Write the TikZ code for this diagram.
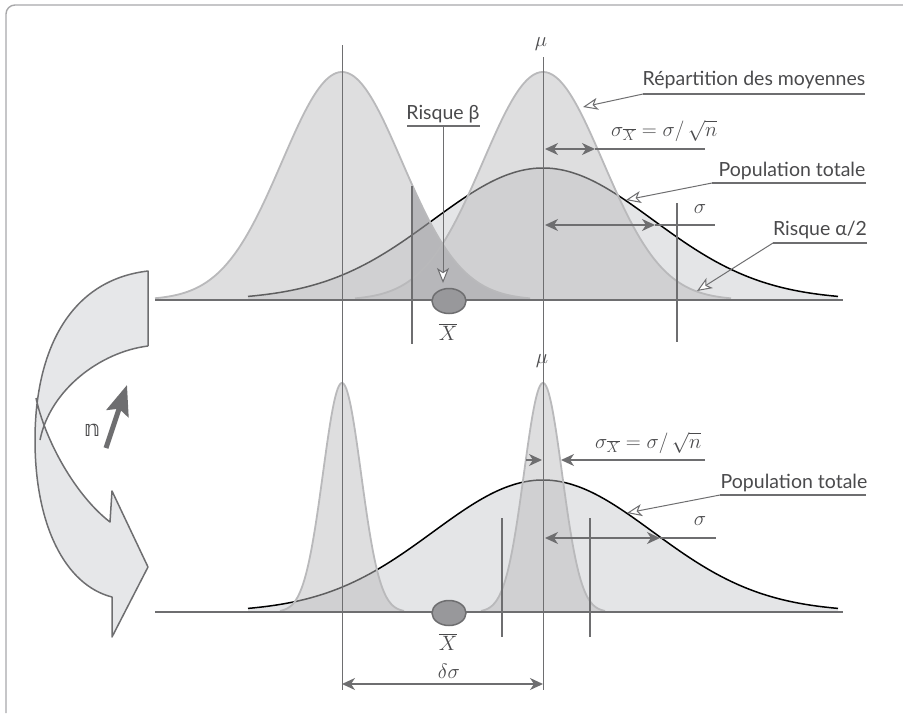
\documentclass[tikz,border=0pt]{standalone}
\usepackage{fontspec}
\setmainfont{Lato}
\newfontfamily\djv{DejaVu Sans}
\usetikzlibrary{arrows.meta,shapes.geometric}
\definecolor{ink}{HTML}{6E6E70}
\definecolor{txt}{HTML}{4A4A4C}
\definecolor{popc}{HTML}{E4E5E7}
\definecolor{bellc}{HTML}{BDBDBF}
\definecolor{bellln}{HTML}{B9B9BB}
\definecolor{betac}{HTML}{B7B7BA}
\definecolor{popgray}{HTML}{6A6A6C}
\definecolor{arrc}{HTML}{E6E7E9}
\definecolor{framec}{HTML}{A8A8AA}
\definecolor{xbarc}{HTML}{98989B}
\begin{document}
\begin{tikzpicture}[x=1pt,y=-1pt,
  declare function={gs(\t,\m,\s)=exp(-0.5*((\t-\m)/\s)*((\t-\m)/\s));},
  lbl/.style={font=\fontsize{19.5}{22}\selectfont,text=txt,inner sep=0pt},
  mth/.style={font=\fontsize{20.74}{25}\selectfont,text=txt,inner sep=0pt},
  uline/.style={draw=ink,line width=1.2pt},
  leader/.style={draw=ink,line width=1pt,-{Stealth[length=15pt,width=12pt,inset=4pt,fill=white]}},
  dimln/.style={draw=ink,line width=1.5pt,{Stealth[length=13pt,width=12pt,inset=4pt]}-{Stealth[length=13pt,width=12pt,inset=4pt]}},
  oneway/.style={draw=ink,line width=1.5pt,-{Stealth[length=13pt,width=12pt,inset=4pt]}},
  plain/.style={draw=ink,line width=1.5pt},
  tickln/.style={draw=ink,line width=1.8pt},
  axisln/.style={draw=ink,line width=2.6pt},
  vln/.style={draw=ink,line width=0.9pt},
  popln/.style={draw=black,line width=1.5pt},
  bellout/.style={draw=bellln,line width=1.8pt},
  bellfill/.style={fill=bellc,opacity=0.5},
  xbar/.style={ellipse,draw=ink,fill=xbarc,line width=1.5pt,minimum width=34pt,minimum height=25pt,inner sep=0pt},
  arrshape/.style={fill=arrc},
  arrline/.style={draw=ink,line width=1.5pt,line join=round}
]
\useasboundingbox (0,0) rectangle (903,713);
% frame
\draw[framec,line width=1.4pt,rounded corners=9pt] (6,713) -- (6,5) -- (903,5);

% ================= TOP PANEL =================
\fill[popc] (248,300) -- plot[domain=248:838,samples=150] (\x,{300-132*gs(\x,543,110)}) -- (838,300) -- cycle;
\draw[popln] plot[domain=248:838,samples=150] (\x,{300-132*gs(\x,543,110)});
\fill[bellfill] (155,300) -- plot[domain=155:530,samples=150] (\x,{300-228*gs(\x,342,60)}) -- (530,300) -- cycle;
\fill[bellfill] (355,300) -- plot[domain=355:731,samples=150] (\x,{300-228*gs(\x,543,60)}) -- (731,300) -- cycle;
\fill[betac] (412,300) -- plot[domain=412:530,samples=80] (\x,{300-228*gs(\x,342,60)}) -- (530,300) -- cycle;
\begin{scope}
\clip (412,300) -- plot[domain=412:530,samples=80] (\x,{300-228*gs(\x,342,60)}) -- (530,300) -- cycle;
\draw[popln,draw=popgray] plot[domain=248:838,samples=150] (\x,{300-132*gs(\x,543,110)});
\end{scope}
\draw[bellout] plot[domain=155:530,samples=150] (\x,{300-228*gs(\x,342,60)});
\draw[bellout] plot[domain=355:731,samples=150] (\x,{300-228*gs(\x,543,60)});
\coordinate (axTL) at (155,300); \coordinate (axTR) at (843,300);
\draw[axisln] (axTL) -- (axTR);

% ================= LOWER PANEL =================
\fill[popc] (248,612) -- plot[domain=248:838,samples=150] (\x,{612-132*gs(\x,543,110)}) -- (838,612) -- cycle;
\draw[popln] plot[domain=248:838,samples=150] (\x,{612-132*gs(\x,543,110)});
\fill[bellfill] (280,612) -- plot[domain=280:404,samples=100] (\x,{612-229*gs(\x,342,19)}) -- (404,612) -- cycle;
\fill[bellfill] (481,612) -- plot[domain=481:605,samples=100] (\x,{612-229*gs(\x,543,19)}) -- (605,612) -- cycle;
\draw[bellout] plot[domain=280:404,samples=100] (\x,{612-229*gs(\x,342,19)});
\draw[bellout] plot[domain=481:605,samples=100] (\x,{612-229*gs(\x,543,19)});
\coordinate (axBL) at (155,612); \coordinate (axBR) at (843,612);
\draw[axisln] (axBL) -- (axBR);

% vertical reference lines
\coordinate (vLt) at (342,45); \coordinate (vLb) at (342,690);
\coordinate (vRt) at (543,57); \coordinate (vRb) at (543,690);
\draw[vln] (vLt) -- (vLb);
\draw[vln] (vRt) -- (vRb);

% ticks
\coordinate (t1a) at (412,186); \coordinate (t1b) at (412,344);
\coordinate (t2a) at (677,203); \coordinate (t2b) at (677,342);
\coordinate (t3a) at (502,518); \coordinate (t3b) at (502,637);
\coordinate (t4a) at (590,518); \coordinate (t4b) at (590,637);
\draw[tickln] (t1a) -- (t1b);
\draw[tickln] (t2a) -- (t2b);
\draw[tickln] (t3a) -- (t3b);
\draw[tickln] (t4a) -- (t4b);

% X bar ellipses and labels
\node[xbar] (xb1) at (449,301) {};
\node[xbar] (xb2) at (449,613) {};
\node[mth] (xl1) at (448,332) {$\overline{X}$};
\node[mth] (xl2) at (448,642) {$\overline{X}$};

% mu labels
\node[mth,fill=white,inner sep=1pt] (mu1) at (541,44) {$\mu$};
\node[mth] (mu2) at (542,361) {$\mu$};

% ---- Répartition des moyennes
\node[lbl,anchor=base] (rep) at (754,85) {Répartition des moyennes};
\coordinate (repL) at (643,94); \coordinate (repR) at (865,94); \coordinate (repT) at (583,107);
\draw[uline] (repR) -- (repL);
\draw[leader] (repL) -- (repT);

% ---- sigma xbar top
\node[mth,anchor=base west] (sx1) at (611,136) {$\sigma_{\overline{X}} = \sigma/\,\sqrt{n}$};
\coordinate (s1a) at (545,149); \coordinate (s1b) at (595,149); \coordinate (s1c) at (705,149);
\draw[dimln] (s1a) -- (s1b);
\draw[plain] (s1b) -- (s1c);

% ---- Population totale top
\node[lbl,anchor=base] (pop1) at (792,176) {Population totale};
\coordinate (p1L) at (712,183); \coordinate (p1R) at (866,183); \coordinate (p1T) at (626,200);
\draw[uline] (p1R) -- (p1L);
\draw[leader] (p1L) -- (p1T);

% ---- sigma top
\node[mth] (sg1) at (700,209) {$\sigma$};
\coordinate (g1a) at (545,225); \coordinate (g1b) at (655,225); \coordinate (g1c) at (715,225);
\draw[dimln] (g1a) -- (g1b);
\draw[plain] (g1b) -- (g1c);

% ---- Risque alpha/2
\node[lbl,anchor=base] (ra) at (820,235) {Risque α/2};
\coordinate (raL) at (773,243); \coordinate (raR) at (867,243); \coordinate (raT) at (697,291);
\draw[uline] (raR) -- (raL);
\draw[leader] (raL) -- (raT);

% ---- Risque beta
\node[lbl,anchor=base] (rb) at (443,119) {Risque β};
\coordinate (rbL) at (407,126); \coordinate (rbR) at (480,126);
\coordinate (rbM) at (443,126); \coordinate (rbT) at (443,283);
\draw[uline] (rbL) -- (rbR);
\draw[leader] (rbM) -- (rbT);

% ---- lower sigma xbar
\node[mth,anchor=base west] (sx2) at (595,448) {$\sigma_{\overline{X}} = \sigma/\,\sqrt{n}$};
\coordinate (s2a) at (526,460); \coordinate (s2b) at (542,460);
\coordinate (s2c) at (705,460); \coordinate (s2d) at (561,460);
\draw[oneway] (s2a) -- (s2b);
\draw[oneway] (s2c) -- (s2d);

% ---- Population totale lower
\node[lbl,anchor=base] (pop2) at (794,488) {Population totale};
\coordinate (p2L) at (720,495); \coordinate (p2R) at (866,495); \coordinate (p2T) at (627,513);
\draw[uline] (p2R) -- (p2L);
\draw[leader] (p2L) -- (p2T);

% ---- sigma lower
\node[mth] (sg2) at (700,521) {$\sigma$};
\coordinate (g2a) at (545,538); \coordinate (g2b) at (660,538); \coordinate (g2c) at (716,538);
\draw[dimln] (g2a) -- (g2b);
\draw[plain] (g2b) -- (g2c);

% ---- delta sigma
\node[mth] (ds) at (449,671) {$\delta\sigma$};
\coordinate (d1) at (342,684); \coordinate (d2) at (543,684);
\draw[dimln] (d1) -- (d2);

% ================= LEFT CURVED ARROW =================
\fill[arrshape] (148,271) .. controls (70,280) and (35,350) .. (35,440) -- (40,440)
  .. controls (50,390) and (100,352) .. (148,346) -- cycle;
\fill[arrshape] (36,398) -- (35,440) .. controls (35,525) and (65,585) .. (112,597)
  -- (112,637) -- (148,567) -- (112,491) -- (110,522)
  .. controls (75,495) and (45,440) .. (36,398) -- cycle;
\draw[arrline] (148,346) -- (148,271) .. controls (70,280) and (35,350) .. (35,440)
  .. controls (35,525) and (65,585) .. (112,597)
  -- (112,637) -- (148,567) -- (112,491) -- (110,522)
  .. controls (75,495) and (45,440) .. (36,398);
\draw[arrline] (148,346) .. controls (100,352) and (50,390) .. (40,440);

% n with arrow
\node[inner sep=0pt,text=txt,font=\djv\fontsize{22}{24}\selectfont] (nl) at (92,430) {𝕟};
\coordinate (na) at (106,448); \coordinate (nb) at (127,385);
\draw[ink,line width=5pt,-{Stealth[length=30pt,width=23pt,inset=5pt]}] (na) -- (nb);
\end{tikzpicture}
\end{document}
